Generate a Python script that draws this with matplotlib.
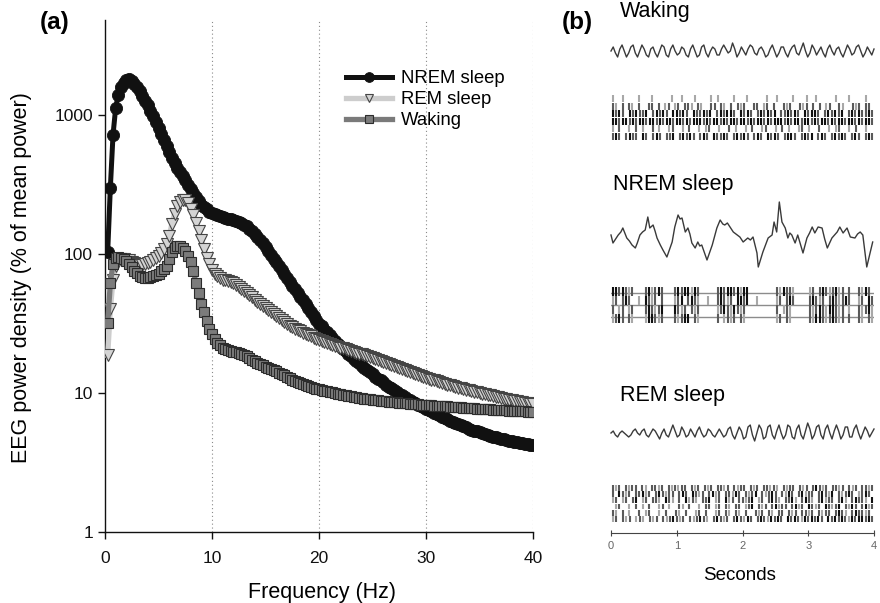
import matplotlib.pyplot as plt
import numpy as np

plt.rcParams['font.family'] = ['Liberation Sans', 'DejaVu Sans']

# ---- panel (a): EEG power spectra, 0.25 Hz bins from 0.25 to 40 Hz ----
freq_step = 0.25
nrem_power = [
    103, 300, 720, 1130, 1400, 1590, 1710, 1780,
    1800, 1760, 1680, 1585, 1480, 1380, 1270, 1175,
    1070, 977, 891, 804, 733, 661, 596, 537,
    490, 452, 417, 389, 363, 339, 316, 295,
    275, 257, 240, 226, 216, 209, 202, 197,
    193, 190, 187, 185, 182, 179, 177, 175,
    172, 169, 166, 162, 158, 152, 146, 140,
    133, 126, 119, 112, 105, 98.8, 92.7, 87.1,
    81.7, 76.6, 71.8, 67.3, 63.1, 59.2, 55.6, 52.2,
    49.2, 46.3, 43.7, 40.7, 38.0, 35.7, 33.6, 31.6,
    30.1, 28.6, 27.3, 26.0, 24.8, 23.7, 22.6, 21.6,
    20.7, 19.9, 19.1, 18.3, 17.6, 16.9, 16.3, 15.7,
    15.1, 14.6, 14.1, 13.6, 13.1, 12.7, 12.3, 11.9,
    11.5, 11.1, 10.8, 10.5, 10.2, 9.90, 9.62, 9.36,
    9.12, 8.89, 8.67, 8.46, 8.26, 8.07, 7.89, 7.72,
    7.55, 7.38, 7.22, 7.06, 6.90, 6.75, 6.60, 6.46,
    6.33, 6.20, 6.08, 5.96, 5.85, 5.75, 5.65, 5.55,
    5.46, 5.37, 5.29, 5.21, 5.13, 5.06, 4.99, 4.92,
    4.86, 4.80, 4.74, 4.68, 4.63, 4.58, 4.54, 4.50,
    4.46, 4.42, 4.39, 4.35, 4.32, 4.28, 4.25, 4.22,
]
rem_power = [
    18.7, 40, 65, 82, 90, 92, 92, 91,
    90, 88, 86, 84, 83, 83, 84, 86,
    88, 91, 93, 96, 101, 109, 118, 134,
    165, 195, 220, 236, 244, 245, 232, 212,
    190, 168, 147, 127, 108, 94, 84, 77,
    72, 69, 67, 65.5, 64.5, 63.5, 62.5, 61.5,
    60, 58, 56, 54, 52, 50.5, 49, 47,
    45.5, 44, 42.5, 41, 39.6, 38.2, 36.9, 35.6,
    34.4, 33.3, 32.2, 31.2, 30.4, 29.7, 29.0, 28.3,
    27.7, 27.1, 26.5, 26.0, 25.5, 25.0, 24.5, 24.1,
    23.7, 23.3, 22.9, 22.5, 22.2, 21.8, 21.5, 21.2,
    20.9, 20.6, 20.3, 20.0, 19.8, 19.5, 19.2, 19.0,
    18.7, 18.5, 18.2, 17.8, 17.6, 17.3, 17.0, 16.7,
    16.5, 16.2, 16.0, 15.7, 15.4, 15.2, 14.9, 14.6,
    14.4, 14.1, 13.9, 13.6, 13.4, 13.2, 13.0, 12.8,
    12.6, 12.45, 12.3, 12.15, 12.0, 11.8, 11.65, 11.5,
    11.35, 11.2, 11.05, 10.9, 10.8, 10.7, 10.55, 10.45,
    10.35, 10.2, 10.1, 10.0, 9.9, 9.8, 9.7, 9.6,
    9.5, 9.4, 9.3, 9.2, 9.12, 9.04, 8.96, 8.88,
    8.8, 8.72, 8.64, 8.56, 8.5, 8.44, 8.37, 8.3,
]
wake_power = [
    32, 62, 85, 93, 95, 94, 92, 89,
    85, 80, 76, 72.5, 70, 68.5, 67.5, 67.5,
    68, 69, 70.5, 72, 75, 78, 82, 92,
    103, 110, 114, 114, 111, 105, 97, 88,
    76, 62, 52, 44, 38, 33, 29, 26.5,
    24.5, 23, 22, 21.2, 20.7, 20.3, 20.0, 19.8,
    19.6, 19.4, 19.2, 18.8, 18.3, 17.8, 17.3, 16.9,
    16.5, 16.1, 15.8, 15.5, 15.2, 14.9, 14.6, 14.3,
    14.0, 13.7, 13.4, 13.1, 12.8, 12.5, 12.25, 12.0,
    11.8, 11.6, 11.4, 11.2, 11.05, 10.9, 10.75, 10.6,
    10.5, 10.4, 10.3, 10.2, 10.1, 10.0, 9.9, 9.8,
    9.72, 9.64, 9.56, 9.48, 9.4, 9.32, 9.24, 9.16,
    9.1, 9.04, 8.98, 8.92, 8.88, 8.84, 8.8, 8.76,
    8.72, 8.68, 8.64, 8.6, 8.56, 8.52, 8.48, 8.44,
    8.41, 8.38, 8.35, 8.32, 8.29, 8.26, 8.23, 8.2,
    8.17, 8.15, 8.12, 8.1, 8.07, 8.05, 8.02, 8.0,
    7.97, 7.95, 7.92, 7.9, 7.87, 7.85, 7.82, 7.8,
    7.77, 7.75, 7.72, 7.7, 7.68, 7.66, 7.64, 7.62,
    7.6, 7.58, 7.56, 7.54, 7.52, 7.5, 7.48, 7.46,
    7.44, 7.42, 7.4, 7.38, 7.36, 7.34, 7.32, 7.3,
]
freqs = freq_step * np.arange(1, len(nrem_power) + 1)

# ---- panel (b): example EEG traces (arbitrary units) and unit rasters over 4 s ----
wake_eeg = [0, 2, -1, -3, 1, 3, 0, -3, -1, 2, 3, -1, -3, 0, 3, 1, -2, -3, 1, 2,
            -1, -3, 0, 3, 2, -2, -3, 1, 3, 0, -2, -1, 2, 1, -2, -3, 1, 3, 0, -3,
            -2, 2, 3, -1, -3, 0, 2, 1, -2, -2, 1, 3, 1, -1, 0, 4, 1, -3, -1, 2,
            0, -2, 1, 3, 2, -1, -2, 1, 2, 0, -3, -2, 1, 3, 0, -3, -1, 2, 2, -1,
            -3, 0, 2, 3, -1, -2, 1, 4, 0, -3, -1, 3, 1, -2, 0, 2, -1, -3, 1, 3,
            0, -2, 1, 2, -1, -3, 0, 3, 1, -2, -1, 2, 3, 0, -3, -1, 2, 0, -2, 1]
nrem_t = [0.0, 0.03, 0.07, 0.11, 0.15, 0.18, 0.24, 0.28, 0.32, 0.37, 0.40, 0.44,
          0.48, 0.52, 0.56, 0.59, 0.64, 0.67, 0.70, 0.75, 0.79, 0.85, 0.93, 0.97,
          1.02, 1.05, 1.08, 1.13, 1.17, 1.20, 1.23, 1.28, 1.32, 1.35, 1.38, 1.46,
          1.54, 1.61, 1.66, 1.70, 1.73, 1.77, 1.81, 1.86, 1.92, 1.96, 2.01, 2.08,
          2.12, 2.16, 2.22, 2.24, 2.31, 2.39, 2.45, 2.48, 2.52, 2.56, 2.60, 2.65,
          2.69, 2.72, 2.75, 2.80, 2.84, 2.92, 2.98, 3.02, 3.06, 3.10, 3.15, 3.21,
          3.25, 3.29, 3.36, 3.40, 3.44, 3.48, 3.53, 3.59, 3.64, 3.71, 3.75, 3.79,
          3.83, 3.89, 3.94, 3.98]
nrem_eeg = [0, -8, -4, 0, 3, 7, -3, -6, -10, -13, -8, 0,
            3, 5, 18, 7, 10, 4, -3, -10, -15, -22, -7, 8,
            20, 16, 17, 3, 7, 1, -8, -13, -7, -11, -10, -25,
            -10, 7, 15, 11, 10, 12, 8, 3, 0, -2, -7, -3,
            -5, -2, -18, -32, -17, -3, 0, 13, 3, 33, 13, 7,
            -3, 2, 0, -8, 0, -18, -3, 2, 8, 2, 8, 7,
            -4, -13, -3, 0, 3, 8, 2, 7, -2, -3, 1, 3,
            0, -32, -18, -7]
rem_eeg = [0, 1, -1, -2, 0, 1, 0, -1, -2, -1, 1, 2, 0, -1, 1, 2, -1, -2, 0, 2,
           1, -1, -3, 0, 2, -1, -2, 1, 4, 1, -2, -1, 3, 1, -2, -1, 2, 0, -2, 1,
           3, 0, -2, -1, 2, 1, -1, -2, 0, 2, 0, -2, -1, 2, 3, -1, -3, 0, 3, 1,
           -3, -2, 3, 4, -1, -4, 0, 4, 2, -3, -2, 3, 4, -1, -3, 1, 4, 0, -3, -1,
           4, 3, -2, -3, 2, 4, -1, -3, 1, 5, 2, -3, -1, 3, 4, -1, -3, 2, 4, 0,
           -3, 1, 4, 1, -3, -1, 3, 3, -2, -2, 2, 4, 0, -3, 0, 3, 1, -2, 0, 2]

# raster rows: one character per time bin, '#' dark spike, '|' mid, ':' faint, '.' none
wake_raster = [
    ":..:....:...:.....:..:...:....:.:....:...:.....:..:....:...:..:.....:...:....:..",
    "|:.|.|:.|..||.|.:|.:|.||:.|:..||.|:.|.|:|..||.:|.|..|:|..|:|.|.|.:|..|:..|:|.||.",
    "#|#|.#|#||#.|#|#|.##|#|.#||#|#.|#|##|.#|#|.|#|#|#.||#|#|.#|##|.|#|#|#.|#|#||#|",
    "##|##|#|##|##|#|##|##|#|###|#|##|#|##|##|#|##|#|###|#|##|##|#|##|#|##|##|#|##|",
    ":.|..:.|.:..|.:..:|..:.|..:.:|..:..|.:..:.|..:|..:.|.:..:|.:..|..:.:|..:.|..:..",
    "|#|.|#||.#|.|#|.||#.|#|#|.|#|.#||#|.|#|#|.|#|.#|#|.|##|.|#|#.|#|.|#|#|.|#|.|#|",
]
nrem_raster = [
    "##|#|:|...|#:|#|...|#|##:#|.....|#|##|#:##........|:#||:....:|.|#|:|#:|.|..|:#|.",
    ":|.|#|..:.#|:|.|...:|#.|#|:..:..|#|:|.##|#..:.....:|.|#|....|#|:|.|#|:|#|..:|.#|",
    "|.:|.:|...|#|:|#...#|:|.|:|.....:|#|:#|:|.........|.:|:.....|:|#|:##|:|.:..|:|#:",
    ":|#|.|:...:##|:|...|:|##.|:.....|.:|:|.|:.........:|.|:.....|:##|:|#|:|.|..|:.|:",
]
rem_raster = [
    "|:|.|:||.|:.||:|.|:|:||.|:|.|:|.||:|.|:||.|:|.||:|:.|:||.|:|.|#|:|.||:|.|:|.||:|",
    "|.#|:|.||#:|.|#|:||.|#|.#|:|.|#:|.||:#|.|:|#.|:|#|.|:#|.|#:||.|#|:#.|:|#|.:|#|.",
    ":|.:|.|#.:|.||:.#|:.|.#:|:.||#.:|.#:|.||:|#.:|.|#|:.||#:.|#|:.|#:||.|#:.|#||:.#",
    ".:|..:.|.:.|..:|.:..|:.|..:.||.:|.|:.||.:|#.|:|.|#:||.|#:|.#|:|.#|:|#.|:#|.|#:|",
    "|:.|.:..|.:|..:.|..|:.|..:|.|..:|.|:.|:.|..|:|.|:.||.|:|.||:|.|:||.|#|:.|#||:|.",
    ":|.|:|.:|:.|:|.|:|#|:|.|:|#|:.|#|:|.|#|:#|.|#|:#|#|.#|#|:#|#|#|.#|#|#|:#|##|#|",
]

W, H = 880, 603
fig = plt.figure(figsize=(W / 100, H / 100), dpi=100)

# ---------------- panel (a) ----------------
ax = fig.add_axes([105 / W, (H - 532) / H, 428 / W, 512 / H])
ax.set_yscale('log')
ax.set_xlim(0, 40)
ax.set_ylim(1, 4820)

for xg in [10, 20, 30, 40]:
    ax.axvline(xg, color='#8a8a8a', lw=0.8, ls=(0, (1, 2.5)), zorder=1)

ax.plot(freqs, nrem_power, color='#111111', lw=3.6, marker='o', ms=8.8,
        mfc='#111111', mec='#111111', mew=0.6, label='NREM sleep', zorder=3)
ax.plot(freqs, rem_power, color='#cdcdcd', lw=3.8, marker='v', ms=8.0,
        mfc='#d4d4d4', mec='#454545', mew=0.8, label='REM sleep', zorder=4)
ax.plot(freqs, wake_power, color='#7a7a7a', lw=3.8, marker='s', ms=6.8,
        mfc='#7c7c7c', mec='#2c2c2c', mew=0.8, label='Waking', zorder=5)

ax.set_xticks([0, 10, 20, 30, 40])
ax.set_yticks([1, 10, 100, 1000])
ax.set_yticklabels(['1', '10', '100', '1000'])
ax.minorticks_off()
for s in ['top', 'right']:
    ax.spines[s].set_visible(False)
for s in ['left', 'bottom']:
    ax.spines[s].set_linewidth(1.0)
    ax.spines[s].set_color('#111111')
ax.tick_params(axis='both', direction='out', length=5, width=1.0,
               labelsize=12.5, colors='#111111')
ax.tick_params(axis='x', pad=9)
ax.tick_params(axis='y', pad=3.6)

ax.set_xlabel('Frequency (Hz)', fontsize=15.5)
ax.xaxis.set_label_coords(0.507, -0.098)
ax.set_ylabel('EEG power density (% of mean power)', fontsize=15.5)
ax.yaxis.set_label_coords(-0.171, 0.497)

ax.legend(loc='upper left', bbox_to_anchor=(346 / W, 1 - 70 / H),
          bbox_transform=fig.transFigure, frameon=False, fontsize=13.3,
          handlelength=2.5, handletextpad=0.5, labelspacing=0.22,
          borderpad=0, borderaxespad=0, markerscale=0.8)

fig.text(40 / W, 1 - 11 / H, '(a)', fontsize=17.5, fontweight='bold', va='top')
fig.text(562 / W, 1 - 11 / H, '(b)', fontsize=17.5, fontweight='bold', va='top')

# ---------------- panel (b) ----------------
bx = fig.add_axes([611 / W, (H - 533) / H, 263 / W, 533 / H])
bx.set_xlim(0, 4)
bx.set_ylim(533, 0)
for s in ['top', 'left', 'right']:
    bx.spines[s].set_visible(False)
bx.spines['bottom'].set_color('#444444')
bx.spines['bottom'].set_linewidth(0.8)
bx.set_yticks([])
bx.set_xticks([0, 1, 2, 3, 4])
bx.tick_params(axis='x', direction='inout', length=5, width=0.8, colors='#444444',
               labelsize=8, labelcolor='#666666', pad=3)

shades = {'#': '#111111', '|': '#5a5a5a', ':': '#a8a8a8'}


def draw_raster(rows, top, row_h):
    for k, row in enumerate(rows):
        dt = 4.0 / len(row)
        y0 = top + k * row_h
        for ch, col in shades.items():
            ts = [(i + 0.5) * dt for i, c in enumerate(row) if c == ch]
            bx.vlines(ts, y0, y0 + row_h - 0.4, colors=col, lw=1.5)


trace_kw = dict(color='#3a3a3a', lw=1.0, clip_on=False)
bx.plot(np.linspace(0, 4, len(wake_eeg)), 51 - 2.0 * np.array(wake_eeg), **trace_kw)
bx.plot(nrem_t, 235 - np.array(nrem_eeg), **trace_kw)
bx.plot(np.linspace(0, 4, len(rem_eeg)), 433 - 2.0 * np.array(rem_eeg), **trace_kw)

draw_raster(wake_raster, 95, 7.5)
for yl in [293, 305, 317]:
    bx.axhline(yl, color='#8c8c8c', lw=1.0)
draw_raster(nrem_raster, 287, 9)
draw_raster(rem_raster, 485, 6.2)

bx.text(0.137, 17, 'Waking', fontsize=15.5, va='baseline', clip_on=False)
bx.text(0.03, 190, 'NREM sleep', fontsize=15.5, va='baseline')
bx.text(0.137, 401, 'REM sleep', fontsize=15.5, va='baseline')
bx.text(1.96, 580, 'Seconds', fontsize=13.5, ha='center', va='baseline')

fig.savefig('out.png', dpi=100)
